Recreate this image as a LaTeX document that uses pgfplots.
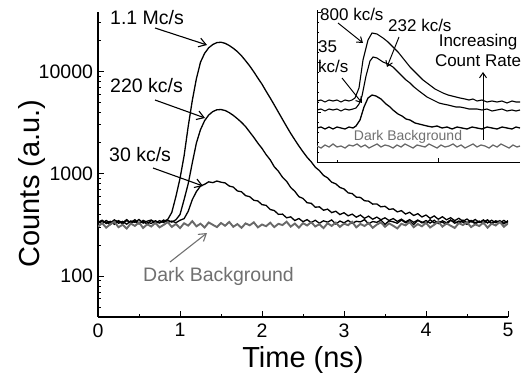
\documentclass[border=0pt]{standalone}
\usepackage{fontspec}
\setmainfont{Liberation Sans}
\usepackage{pgfplots}
\usepackage{pgfplotstable}
\pgfplotsset{compat=1.18}
\usetikzlibrary{arrows.meta}
\definecolor{dkgray}{RGB}{105,105,105}
\definecolor{txtgray}{RGB}{112,112,112}

% Main panel: 1.1 Mc/s
\pgfplotstableread{
t v
0.00 336
0.05 352
0.10 327
0.15 344
0.20 321
0.25 349
0.30 333
0.35 357
0.40 330
0.45 345
0.50 324
0.55 351
0.60 337
0.65 328
0.70 348
0.75 333
0.80 343
0.85 358
0.90 420
0.95 600
1.00 900
1.05 1500
1.10 2900
1.15 5200
1.20 8500
1.25 12300
1.30 15000
1.35 17000
1.40 18300
1.45 19100
1.50 19250
1.55 18800
1.60 17900
1.65 16800
1.70 15600
1.75 14200
1.80 12700
1.85 11300
1.90 9900
1.95 8600
2.00 7500
2.05 6400
2.10 5500
2.15 4700
2.20 4000
2.25 3400
2.30 2900
2.35 2480
2.40 2150
2.45 1870
2.50 1640
2.55 1450
2.60 1310
2.65 1160
2.70 1075
2.75 965
2.80 912
2.85 828
2.90 798
2.95 736
3.00 712
3.05 652
3.10 641
3.15 592
3.20 588
3.25 546
3.30 541
3.35 506
3.40 508
3.45 476
3.50 482
3.55 449
3.60 455
3.65 425
3.70 437
3.75 405
3.80 421
3.85 392
3.90 408
3.95 379
4.00 396
4.05 368
4.10 388
4.15 360
4.20 381
4.25 356
4.30 373
4.35 349
4.40 368
4.45 344
4.50 362
4.55 338
4.60 358
4.65 335
4.70 355
4.75 331
4.80 352
4.85 333
4.90 349
4.95 329
5.00 346
}\curveA

% Main panel: 220 kc/s
\pgfplotstableread{
t v
0.00 341
0.05 326
0.10 350
0.15 332
0.20 355
0.25 329
0.30 343
0.35 322
0.40 347
0.45 336
0.50 358
0.55 330
0.60 345
0.65 354
0.70 327
0.75 349
0.80 335
0.85 352
0.90 338
0.95 356
1.00 400
1.05 560
1.10 800
1.15 1280
1.20 2000
1.25 2700
1.30 3300
1.35 3750
1.40 4050
1.45 4220
1.50 4240
1.55 4150
1.60 3960
1.65 3720
1.70 3450
1.75 3180
1.80 2890
1.85 2560
1.90 2270
1.95 1990
2.00 1770
2.05 1540
2.10 1370
2.15 1170
2.20 1060
2.25 925
2.30 845
2.35 735
2.40 675
2.45 598
2.50 575
2.55 522
2.60 515
2.65 472
2.70 476
2.75 441
2.80 452
2.85 418
2.90 431
2.95 400
3.00 417
3.05 389
3.10 404
3.15 377
3.20 396
3.25 368
3.30 386
3.35 360
3.40 378
3.45 356
3.50 372
3.55 350
3.60 366
3.65 343
3.70 361
3.75 339
3.80 357
3.85 336
3.90 354
3.95 332
4.00 350
4.05 330
4.10 352
4.15 327
4.20 348
4.25 333
4.30 355
4.35 329
4.40 346
4.45 337
4.50 321
4.55 350
4.60 334
4.65 345
4.70 326
4.75 353
4.80 331
4.85 347
4.90 338
4.95 324
5.00 349
}\curveB

% Main panel: 30 kc/s
\pgfplotstableread{
t v
0.00 330
0.05 347
0.10 338
0.15 319
0.20 352
0.25 341
0.30 326
0.35 349
0.40 335
0.45 356
0.50 328
0.55 343
0.60 322
0.65 351
0.70 339
0.75 331
0.80 354
0.85 336
0.90 346
0.95 333
1.00 352
1.05 365
1.10 430
1.15 560
1.20 670
1.25 760
1.30 790
1.35 835
1.40 820
1.45 850
1.50 828
1.55 815
1.60 760
1.65 742
1.70 680
1.75 668
1.80 612
1.85 598
1.90 552
1.95 543
2.00 500
2.05 492
2.10 448
2.15 438
2.20 402
2.25 404
2.30 372
2.35 380
2.40 350
2.45 366
2.50 341
2.55 357
2.60 334
2.65 352
2.70 329
2.75 348
2.80 337
2.85 355
2.90 323
2.95 346
3.00 332
3.05 351
3.10 328
3.15 344
3.20 339
3.25 357
3.30 325
3.35 342
3.40 336
3.45 353
3.50 321
3.55 347
3.60 340
3.65 329
3.70 354
3.75 333
3.80 345
3.85 320
3.90 350
3.95 338
4.00 327
4.05 356
4.10 331
4.15 344
4.20 336
4.25 322
4.30 351
4.35 340
4.40 328
4.45 353
4.50 334
4.55 347
4.60 325
4.65 342
4.70 338
4.75 355
4.80 323
4.85 346
4.90 333
4.95 351
5.00 329
}\curveC

% Main panel: dark background
\pgfplotstableread{
t v
0.00 305
0.05 330
0.10 298
0.15 322
0.20 340
0.25 301
0.30 318
0.35 292
0.40 327
0.45 310
0.50 336
0.55 296
0.60 321
0.65 306
0.70 332
0.75 300
0.80 317
0.85 338
0.90 303
0.95 324
1.00 295
1.05 329
1.10 312
1.15 345
1.20 307
1.25 326
1.30 299
1.35 335
1.40 318
1.45 302
1.50 331
1.55 311
1.60 339
1.65 304
1.70 323
1.75 297
1.80 328
1.85 314
1.90 336
1.95 300
2.00 320
2.05 308
2.10 333
2.15 302
2.20 325
2.25 316
2.30 341
2.35 305
2.40 327
2.45 298
2.50 330
2.55 313
2.60 337
2.65 306
2.70 322
2.75 295
2.80 329
2.85 310
2.90 334
2.95 303
3.00 326
3.05 315
3.10 340
3.15 300
3.20 324
3.25 309
3.30 331
3.35 297
3.40 319
3.45 336
3.50 304
3.55 328
3.60 311
3.65 293
3.70 325
3.75 314
3.80 338
3.85 301
3.90 323
3.95 307
4.00 332
4.05 299
4.10 318
4.15 342
4.20 305
4.25 327
4.30 312
4.35 296
4.40 330
4.45 316
4.50 337
4.55 302
4.60 321
4.65 309
4.70 335
4.75 298
4.80 326
4.85 313
4.90 339
4.95 304
5.00 328
}\curveD

% Inset (arbitrary units)
\pgfplotstableread{
x y
0 61
4 62
8 60
12 62
16 61
20 62
24 60
28 62
32 61
35 62
38 64
42 74
46 102
51 122
55 129
60 128
66 124
71 120
76 115
81 110
85 105
89 100
93 95
97 91
102 86
106 82
110 79
114 76
118 73
122 71
126 69
131 67
135 66
139 65
143 64
148 63
152 62
156 63
160 61
165 62
170 60
175 61
180 60
185 61
190 59
195 61
199 60
203 60
}\insetA

\pgfplotstableread{
x y
0 52
4 53
8 51
12 53
16 52
20 53
24 51
28 53
32 52
36 53
39 54
42 58
45 66
49 86
53 101
56 105
60 104
66 100
71 98
76 95
81 90
85 86
89 82
93 79
97 75
102 71
106 68
110 65
114 63
118 61
122 59
126 58
131 57
135 56
139 55
143 55
148 54
152 53
160 53
165 52
170 53
175 51
180 52
185 53
190 51
195 52
199 51
203 52
}\insetB

\pgfplotstableread{
x y
0 34
4 35
8 33
12 35
16 33
20 35
24 34
28 33
32 35
36 34
39 36
43 42
47 55
51 64
55 67
59 66
64 63
69 58
73 55
76 52
81 48
85 46
89 43
93 42
98 39
102 38
106 37
110 36
115 35
120 36
125 34
130 35
135 33
140 35
145 34
150 33
155 35
160 34
165 33
170 35
175 34
180 33
185 35
190 34
195 33
199 35
203 34
}\insetC

\pgfplotstableread{
x y
0 16
4 14
8 17
12 15
16 18
20 15
24 16
28 14
32 17
36 16
40 18
44 15
48 17
52 14
56 16
60 18
64 15
68 17
72 16
76 14
80 17
84 15
88 18
92 16
96 14
100 17
104 16
108 15
112 18
116 16
120 14
124 17
128 15
132 16
136 18
140 15
144 17
148 14
152 16
156 18
160 15
164 17
168 16
172 14
176 17
180 15
184 18
188 16
192 14
196 17
200 15
203 16
}\insetD

\begin{document}
\begin{tikzpicture}
\useasboundingbox (0,0) rectangle (530pt,378pt);
\begin{axis}[
  at={(98pt,61pt)}, anchor=south west,
  scale only axis, width=410pt, height=305pt,
  xmin=0, xmax=5, ymin=40, ymax=38000, ymode=log,
  axis x line*=bottom, axis y line*=left,
  axis line style={line width=1.1pt},
  tick align=inside, major tick length=6pt, minor tick length=3pt,
  every tick/.style={black, line width=1pt},
  xtick={0,1,2,3,4,5}, xticklabels={0,1,2,3,4,5},
  minor xtick={0.5,1.5,2.5,3.5,4.5},
  ytick={100,1000,10000}, yticklabels={100,1000,10000},
  minor ytick={50,60,70,80,90,200,300,400,500,600,700,800,900,2000,3000,4000,5000,6000,7000,8000,9000,20000,30000},
  ticklabel style={font=\fontsize{19.5}{23}\selectfont},
  xticklabel style={yshift=-3pt},
  yticklabel style={xshift=-1.5pt},
  xlabel={Time (ns)}, ylabel={Counts (a.u.)},
  label style={font=\fontsize{29}{34}\selectfont},
  xlabel style={at={(axis description cs:0.5,0)}, anchor=base, yshift=-51pt},
  ylabel style={at={(axis description cs:-0.1415,0.4377)}, anchor=base},
]
\addplot[black, line width=1.3pt] table[x=t,y=v] {\curveA};
\addplot[black, line width=1.3pt] table[x=t,y=v] {\curveB};
\addplot[black, line width=1.3pt] table[x=t,y=v] {\curveC};
\addplot[dkgray, line width=1.9pt] table[x=t,y=v] {\curveD};
\end{axis}

\begin{axis}[
  at={(317pt,216pt)}, anchor=south west,
  scale only axis, width=203pt, height=152pt,
  xmin=0, xmax=203, ymin=0, ymax=152,
  axis x line*=bottom, axis y line*=left,
  axis line style={line width=0.8pt},
  tick align=inside, major tick length=4pt, minor tick length=2pt,
  every tick/.style={black, line width=0.6pt},
  xtick={121}, minor xtick={20}, xticklabels={},
  ytick={0,50,100,150}, minor y tick num=4, yticklabels={},
]
\addplot[black, line width=1.1pt] table[x=x,y=y] {\insetA};
\addplot[black, line width=1.1pt] table[x=x,y=y] {\insetB};
\addplot[black, line width=1.3pt] table[x=x,y=y] {\insetC};
\addplot[dkgray, line width=1.3pt] table[x=x,y=y] {\insetD};
\end{axis}

% Main annotations
\begin{scope}[font=\fontsize{19.5}{23}\selectfont]
\node[anchor=base west, inner sep=0pt] at (110pt,353pt) {1.1 Mc/s};
\node[anchor=base west, inner sep=0pt] at (110pt,285pt) {220 kc/s};
\node[anchor=base west, inner sep=0pt] at (109pt,216pt) {30 kc/s};
\node[anchor=base west, inner sep=0pt, text=txtgray] at (143pt,97pt) {Dark Background};
\end{scope}
\draw[line width=1.1pt, -{Straight Barb[length=7pt,width=9pt]}] (155pt,350pt) -- (207pt,333pt);
\draw[line width=1.1pt, -{Straight Barb[length=7pt,width=9pt]}] (155pt,278pt) -- (205pt,260pt);
\draw[line width=1.1pt, -{Straight Barb[length=7pt,width=9pt]}] (153pt,210pt) -- (203pt,192pt);
\draw[line width=1.1pt, txtgray, -{Straight Barb[length=7pt,width=9pt]}] (170pt,116pt) -- (207pt,145pt);

% Inset annotations
\begin{scope}[font=\fontsize{17}{20}\selectfont]
\node[anchor=base west, inner sep=0pt] at (320pt,357pt) {800 kc/s};
\node[anchor=base west, inner sep=0pt] at (388pt,346pt) {232 kc/s};
\node[anchor=base west, inner sep=0pt] at (318pt,325pt) {35};
\node[anchor=base west, inner sep=0pt] at (318pt,305pt) {kc/s};
\node[anchor=base, inner sep=0pt] at (478pt,331pt) {Increasing};
\node[anchor=base, inner sep=0pt] at (478pt,311pt) {Count Rate};
\end{scope}
\node[anchor=base, inner sep=0pt, text=txtgray, font=\fontsize{14}{17}\selectfont] at (408pt,237pt) {Dark Background};
\draw[line width=1pt, -{Straight Barb[length=5pt,width=7pt]}] (338pt,355pt) -- (363pt,335pt);
\draw[line width=1pt, -{Straight Barb[length=5pt,width=7pt]}] (399pt,341pt) -- (387pt,311pt);
\draw[line width=1pt, -{Straight Barb[length=5pt,width=7pt]}] (342pt,300pt) -- (362pt,275pt);
\draw[line width=1pt, -{Straight Barb[length=5pt,width=7pt]}] (483pt,238pt) -- (483pt,306pt);
\end{tikzpicture}
\end{document}
